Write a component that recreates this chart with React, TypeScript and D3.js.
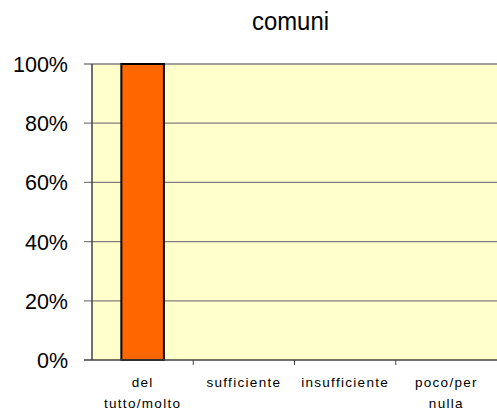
import React, { useRef, useEffect } from 'react';
import * as d3 from 'd3';

const title = 'comuni';
const categories = ['del tutto/molto', 'sufficiente', 'insufficiente', 'poco/per nulla'];
const categoryLines = [['del', 'tutto/molto'], ['sufficiente'], ['insufficiente'], ['poco/per', 'nulla']];
const values = [1, 0, 0, 0];
const yTicks = [0, 0.2, 0.4, 0.6, 0.8, 1];

export default function App() {
  const svgRef = useRef<SVGSVGElement>(null);
  const width = 497;
  const height = 410;
  const margin = { top: 64, right: 0, bottom: 50, left: 92 };

  useEffect(() => {
    const svg = d3.select(svgRef.current);
    svg.selectAll('*').remove();
    const font = '"Liberation Sans", Arial, sans-serif';

    const x = d3.scaleBand().domain(categories).range([margin.left, width - margin.right]);
    const y = d3.scaleLinear().domain([0, 1]).range([height - margin.bottom, margin.top]);

    // plot background
    svg.append('rect')
      .attr('x', margin.left).attr('y', margin.top)
      .attr('width', width - margin.right - margin.left)
      .attr('height', y(0) - margin.top)
      .attr('fill', '#ffffcc');

    // gridlines
    svg.append('g').selectAll('line')
      .data(yTicks.filter(d => d > 0))
      .join('line')
      .attr('x1', margin.left - 8).attr('x2', width)
      .attr('y1', d => y(d)).attr('y2', d => y(d))
      .attr('stroke', '#7f7f7f').attr('stroke-width', 1.3);

    // bars
    const bw = x.bandwidth() * 0.42;
    svg.append('g').selectAll('rect')
      .data(values.map((v, i) => ({ v, c: categories[i] })).filter(d => d.v > 0))
      .join('rect')
      .attr('x', d => x(d.c)! + x.bandwidth() / 2 - bw / 2)
      .attr('y', d => y(d.v))
      .attr('width', bw)
      .attr('height', d => y(0) - y(d.v))
      .attr('fill', '#ff6600')
      .attr('stroke', '#000').attr('stroke-width', 2);

    // y axis
    svg.append('line')
      .attr('x1', margin.left).attr('x2', margin.left)
      .attr('y1', margin.top).attr('y2', y(0))
      .attr('stroke', '#404040').attr('stroke-width', 1.5);
    svg.append('line')
      .attr('x1', margin.left - 8).attr('x2', margin.left)
      .attr('y1', y(0)).attr('y2', y(0))
      .attr('stroke', '#404040').attr('stroke-width', 1.5);
    svg.append('g').selectAll('text')
      .data(yTicks)
      .join('text')
      .attr('x', 68).attr('y', d => y(d) + 8)
      .attr('text-anchor', 'end')
      .attr('font-family', font).attr('font-size', 21.5)
      .attr('fill', '#000')
      .text(d => d3.format('.0%')(d));

    // x axis
    svg.append('line')
      .attr('x1', margin.left).attr('x2', width)
      .attr('y1', y(0)).attr('y2', y(0))
      .attr('stroke', '#404040').attr('stroke-width', 1.5);
    svg.append('g').selectAll('line')
      .data(categories.slice(1))
      .join('line')
      .attr('x1', d => x(d)!).attr('x2', d => x(d)!)
      .attr('y1', y(0)).attr('y2', y(0) + 5)
      .attr('stroke', '#404040').attr('stroke-width', 1);

    const lbl = svg.append('g').selectAll('text')
      .data(categories)
      .join('text')
      .attr('text-anchor', 'middle')
      .attr('font-family', font).attr('font-size', 13.5)
      .attr('letter-spacing', 1.3)
      .attr('fill', '#000');
    lbl.each(function (d, i) {
      d3.select(this).selectAll('tspan')
        .data(categoryLines[i])
        .join('tspan')
        .attr('x', x(d)! + x.bandwidth() / 2)
        .attr('y', (_, j) => 387 + j * 21)
        .text(t => t);
    });

    svg.append('text')
      .attr('x', (margin.left + width) / 2 - 4).attr('y', 30)
      .attr('text-anchor', 'middle')
      .attr('font-family', font).attr('font-size', 25)
      .attr('textLength', 77).attr('lengthAdjust', 'spacingAndGlyphs')
      .attr('fill', '#000')
      .text(title);
  }, []);

  return (
    <svg ref={svgRef} width={width} height={height}
      style={{ position: 'absolute', left: 0, top: 0, background: '#fff' }} />
  );
}
